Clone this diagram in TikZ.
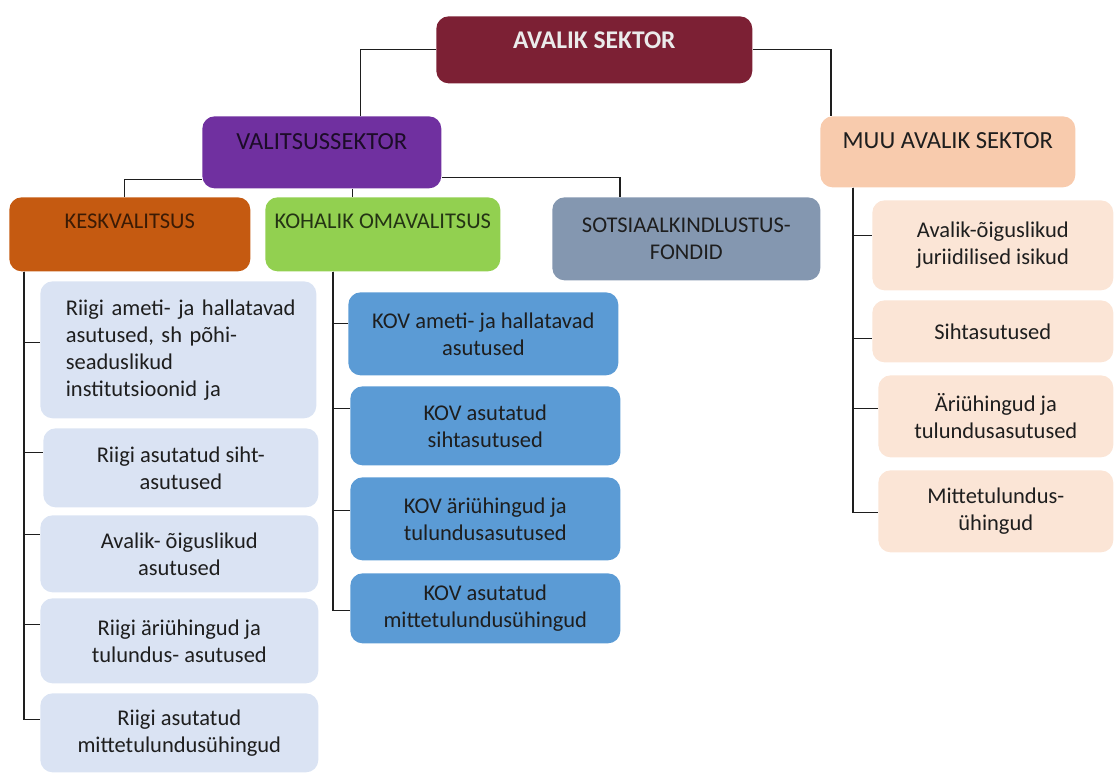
\documentclass[tikz,border=0pt]{standalone}
\usepackage{fontspec}
\setmainfont{Carlito}
\usetikzlibrary{positioning}
\definecolor{wine}{RGB}{124,32,52}
\definecolor{plum}{RGB}{112,48,160}
\definecolor{rust}{RGB}{197,90,17}
\definecolor{lime}{RGB}{146,208,80}
\definecolor{slate}{RGB}{132,151,176}
\definecolor{pale}{RGB}{218,227,243}
\definecolor{sky}{RGB}{91,155,213}
\definecolor{peach}{RGB}{248,203,173}
\definecolor{cream}{RGB}{251,229,214}
\definecolor{ink}{RGB}{30,30,30}
\newcommand{\boxfont}{\fontsize{12.8}{15.3}\selectfont}
\newcommand{\headfont}{\fontsize{14}{16}\selectfont}
\tikzset{
  box/.style={fill=#1,rounded corners=7pt,inner sep=0pt,align=center,
    font=\boxfont,text=ink,anchor=north west},
  box/.default=pale,
  link/.style={draw=ink,line width=0.7pt},
}

\begin{document}
\begin{tikzpicture}[x=0.02cm,y=-0.02cm]
  \useasboundingbox (0,0) rectangle (1117,778);
  % top levels
  \node[box=wine,text=white!92!black,font=\fontsize{14.5}{16}\selectfont\bfseries,
    minimum width=6.32cm,text height=0.64cm,text depth=0.70cm] (avalik) at (436,16) {AVALIK SEKTOR};
  \node[box=plum,text=plum!25!black,font=\headfont,minimum width=4.78cm,text height=0.66cm,text depth=0.78cm] (valitsus) at (202,116) {VALITSUSSEKTOR};
  \node[box=peach,font=\headfont,minimum width=5.1cm,text height=0.64cm,text depth=0.78cm] (muu) at (820,116) {MUU AVALIK SEKTOR};
  \node[box=rust,text=rust!30!black,minimum width=4.82cm,text height=0.62cm,text depth=0.86cm] (kesk) at (9,197) {KESKVALITSUS};
  \node[box=lime,text=lime!25!black,minimum width=4.7cm,text height=0.62cm,text depth=0.86cm] (kohalik) at (265,197) {KOHALIK OMAVALITSUS};
  \node[box=slate,minimum width=5.36cm,minimum height=1.66cm] (sotsiaal) at (552,197) {SOTSIAALKINDLUSTUS-\\FONDID};

  % keskvalitsus
  \node[box,minimum width=5.52cm,minimum height=2.74cm,text width=4.5cm,align=left] (k1) at (40,281)
    {\mbox{Riigi ameti- ja hallatavad}\\\mbox{asutused, sh põhi-}\\seaduslikud\\institutsioonid ja};
  \node[box,minimum width=5.5cm,minimum height=1.58cm] (k2) at (43,428) {Riigi asutatud siht-\\asutused};
  \node[box,minimum width=5.56cm,minimum height=1.54cm] (k3) at (40,515) {Avalik- õiguslikud\\asutused};
  \node[box,minimum width=5.56cm,minimum height=1.7cm] (k4) at (40,598) {Riigi äriühingud ja\\tulundus- asutused};
  \node[box,minimum width=5.56cm,minimum height=1.58cm] (k5) at (40,693) {Riigi asutatud\\mittetulundusühingud};

  % kohalik omavalitsus
  \node[box=sky,minimum width=5.4cm,minimum height=1.66cm] (c1) at (348,292) {KOV ameti- ja hallatavad\\asutused};
  \node[box=sky,minimum width=5.4cm,minimum height=1.58cm] (c2) at (350,386) {KOV asutatud\\sihtasutused};
  \node[box=sky,minimum width=5.4cm,minimum height=1.66cm] (c3) at (350,477) {KOV äriühingud ja\\tulundusasutused};
  \node[box=sky,minimum width=5.4cm,minimum height=1.4cm] (c4) at (350,573) {KOV asutatud\\mittetulundusühingud};

  % muu avalik sektor
  \node[box=cream,minimum width=4.82cm,minimum height=1.8cm] (m1) at (872,200) {Avalik-õiguslikud\\juriidilised isikud};
  \node[box=cream,minimum width=4.82cm,minimum height=1.24cm] (m2) at (872,300) {Sihtasutused};
  \node[box=cream,minimum width=4.7cm,minimum height=1.64cm] (m3) at (878,375) {Äriühingud ja\\tulundusasutused};
  \node[box=cream,minimum width=4.7cm,minimum height=1.64cm] (m4) at (878,470) {Mittetulundus-\\ühingud};

  % connectors
  \draw[link] (avalik.west) -| ([xshift=0.77cm]valitsus.north);
  \draw[link] (avalik.east) -| ([xshift=0.22cm]muu.north west);
  \draw[link] ([yshift=-0.54cm]valitsus.west) -| ([xshift=-0.11cm]kesk.north);
  \draw[link] ([yshift=-0.5cm]valitsus.east) -| ([xshift=1.36cm]sotsiaal.north west);
  \coordinate (vk) at ([xshift=0.61cm]valitsus.south);
  \draw[link] (vk) -- (vk |- kohalik.north);

  \coordinate (kt) at ([xshift=0.3cm]kesk.south west);
  \foreach \b/\s in {k1/0.15,k2/0.3,k3/0.38,k4/0.33,k5/0.26}
    \draw[link] (kt) |- ([yshift=\s cm]\b.west);
  \coordinate (ct) at ([xshift=1.36cm]kohalik.south west);
  \foreach \b/\s in {c1/0.21,c2/0.35,c3/0.17,c4/-0.04}
    \draw[link] (ct) |- ([yshift=\s cm]\b.west);
  \coordinate (mt) at ([xshift=0.66cm]muu.south west);
  \foreach \b/\s in {m1/0.2,m2/-0.14,m3/0.16,m4/-0.02}
    \draw[link] (mt) |- ([yshift=\s cm]\b.west);
\end{tikzpicture}
\end{document}
